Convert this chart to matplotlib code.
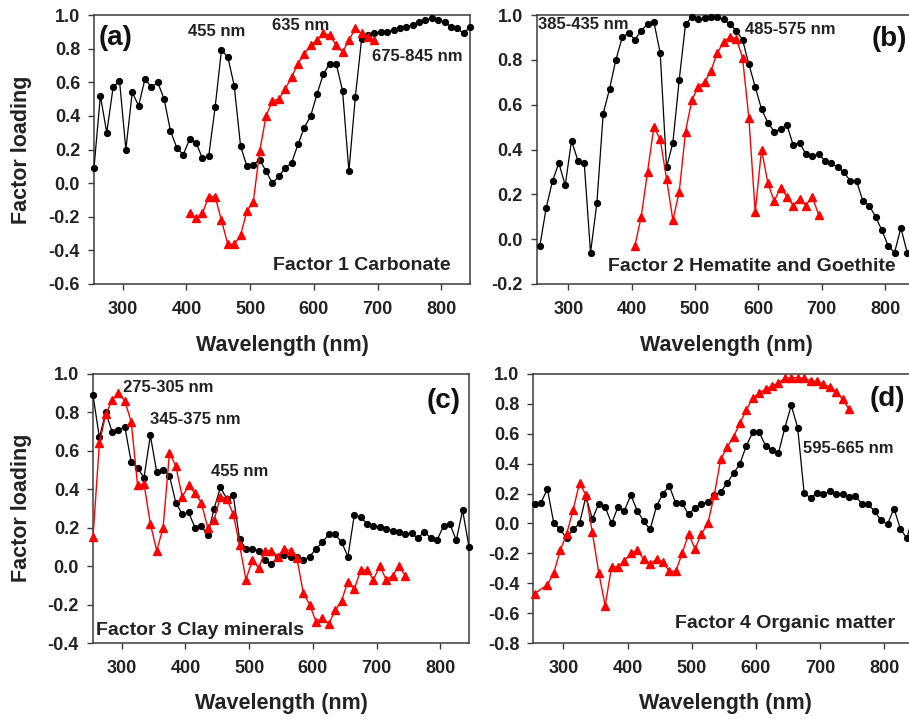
import numpy as np
import matplotlib
matplotlib.use("Agg")
import matplotlib.pyplot as plt

# wavelengths (nm)
wl_full = np.arange(255, 846, 10)          # 255..845
wl_b = np.arange(255, 836, 10)             # 255..835 (panel b, cropped)
wl_red_ab = np.arange(405, 696, 10)        # 405..695
wl_red_c = np.arange(255, 746, 10)         # 255..745
wl_red_d = np.concatenate([[255], np.arange(275, 746, 10)])

# (a) Factor 1 Carbonate
black_a = [0.09, 0.52, 0.30, 0.57, 0.61, 0.20, 0.54, 0.46, 0.62, 0.57,
           0.60, 0.50, 0.31, 0.21, 0.17, 0.26, 0.24, 0.15, 0.16, 0.45,
           0.79, 0.75, 0.58, 0.22, 0.10, 0.11, 0.14, 0.07, 0.00, 0.04,
           0.09, 0.12, 0.23, 0.33, 0.40, 0.53, 0.65, 0.71, 0.71, 0.55,
           0.07, 0.51, 0.86, 0.88, 0.89, 0.90, 0.90, 0.91, 0.92, 0.93,
           0.94, 0.96, 0.97, 0.98, 0.97, 0.96, 0.93, 0.92, 0.89, 0.93]
red_a = [-0.18, -0.21, -0.18, -0.08, -0.08, -0.22, -0.365, -0.365, -0.31, -0.165,
         -0.11, 0.19, 0.40, 0.49, 0.50, 0.56, 0.63, 0.71, 0.77, 0.82,
         0.85, 0.89, 0.88, 0.82, 0.78, 0.85, 0.92, 0.89, 0.87, 0.85]

# (b) Factor 2 Hematite and Goethite
black_b = [-0.03, 0.14, 0.26, 0.34, 0.24, 0.44, 0.35, 0.34, -0.06, 0.16,
           0.56, 0.67, 0.80, 0.90, 0.92, 0.89, 0.93, 0.96, 0.97, 0.83,
           0.32, 0.43, 0.71, 0.96, 0.99, 0.98, 0.985, 0.99, 0.99, 0.98,
           0.96, 0.93, 0.89, 0.78, 0.68, 0.58, 0.52, 0.48, 0.49, 0.51,
           0.42, 0.43, 0.38, 0.37, 0.38, 0.35, 0.34, 0.32, 0.30, 0.26,
           0.26, 0.17, 0.15, 0.10, 0.04, -0.03, -0.06, 0.05, -0.06]
red_b = [-0.03, 0.10, 0.30, 0.50, 0.445, 0.27, 0.085, 0.21, 0.48, 0.62,
         0.68, 0.70, 0.75, 0.83, 0.88, 0.90, 0.895, 0.81, 0.54, 0.12,
         0.40, 0.25, 0.17, 0.23, 0.19, 0.15, 0.18, 0.15, 0.19, 0.11]

# (c) Factor 3 Clay minerals
black_c = [0.89, 0.67, 0.80, 0.70, 0.71, 0.725, 0.54, 0.51, 0.46, 0.68,
           0.49, 0.50, 0.47, 0.33, 0.27, 0.28, 0.20, 0.21, 0.16, 0.30,
           0.41, 0.35, 0.37, 0.14, 0.09, 0.09, 0.08, 0.03, 0.01, 0.05,
           0.06, 0.05, 0.05, 0.03, 0.05, 0.09, 0.125, 0.165, 0.165, 0.125,
           0.05, 0.265, 0.255, 0.22, 0.21, 0.205, 0.195, 0.185, 0.18, 0.165,
           0.17, 0.145, 0.18, 0.145, 0.135, 0.21, 0.22, 0.135, 0.29, 0.10]
red_c = [0.15, 0.64, 0.79, 0.865, 0.90, 0.86, 0.75, 0.42, 0.43, 0.22,
         0.08, 0.20, 0.59, 0.52, 0.36, 0.42, 0.38, 0.33, 0.20, 0.24,
         0.36, 0.35, 0.27, 0.11, -0.07, 0.03, -0.01, 0.08, 0.08, 0.05,
         0.09, 0.08, 0.04, -0.14, -0.20, -0.29, -0.27, -0.30, -0.23, -0.18,
         -0.08, -0.12, -0.02, -0.02, -0.07, 0.00, -0.07, -0.05, 0.00, -0.05]

# (d) Factor 4 Organic matter
black_d = [0.13, 0.14, 0.23, 0.00, -0.04, -0.10, -0.04, 0.00, 0.18, 0.03,
           0.13, 0.11, 0.00, 0.11, 0.085, 0.19, 0.085, 0.015, -0.04, 0.115,
           0.20, 0.25, 0.135, 0.135, 0.06, 0.105, 0.13, 0.145, 0.19, 0.21,
           0.27, 0.335, 0.40, 0.52, 0.61, 0.61, 0.52, 0.49, 0.47, 0.64,
           0.79, 0.64, 0.205, 0.17, 0.205, 0.195, 0.215, 0.195, 0.20, 0.175,
           0.185, 0.13, 0.13, 0.08, 0.02, -0.005, 0.10, -0.035, -0.10, 0.05]
red_d = [-0.47, -0.41, -0.33, -0.18, -0.07, 0.09, 0.27, 0.19, -0.06, -0.33,
         -0.55, -0.29, -0.29, -0.25, -0.20, -0.18, -0.24, -0.27, -0.24, -0.26,
         -0.32, -0.32, -0.20, -0.07, -0.17, -0.07, 0.00, 0.19, 0.43, 0.51,
         0.58, 0.67, 0.76, 0.84, 0.87, 0.90, 0.92, 0.94, 0.97, 0.975,
         0.975, 0.97, 0.955, 0.95, 0.93, 0.915, 0.88, 0.83, 0.765]

plt.rcParams.update({
    "font.family": ["Liberation Sans", "DejaVu Sans"],
    "font.weight": "bold",
    "axes.unicode_minus": False,
})

W, H = 909, 719
fig = plt.figure(figsize=(W / 100, H / 100), dpi=100)
SPINE = "#3c3c3c"


def px_axes(left, top, right, bottom):
    return fig.add_axes([left / W, 1 - bottom / H, (right - left) / W, (bottom - top) / H])


def panel(ax, xlim, ylim, black_x, black_y, red_x, red_y):
    ax.plot(black_x, black_y, color="black", lw=0.9, marker="o", ms=4.2,
            mfc="black", mec="black", zorder=3, clip_on=False)
    ax.plot(red_x, red_y, color="#ff0000", lw=1.0, marker="^", ms=5.2,
            mfc="#ff0000", mec="#ff0000", zorder=4, clip_on=False)
    ax.set_xlim(*xlim)
    ax.set_ylim(*ylim)
    ax.set_xticks([300, 400, 500, 600, 700, 800])
    ax.set_yticks(np.round(np.arange(ylim[0], ylim[1] + 0.01, 0.2), 1) + 0.0)
    ax.yaxis.set_major_formatter(matplotlib.ticker.FuncFormatter(
        lambda v, _: f"{abs(v):.1f}" if abs(v) < 1e-9 else f"{v:.1f}"))
    ax.tick_params(direction="out", length=4, width=1.0, color=SPINE,
                   labelsize=13, top=False, right=False)
    ax.tick_params(axis="x", pad=8)
    ax.tick_params(axis="y", pad=6)
    for lab in ax.get_xticklabels() + ax.get_yticklabels():
        lab.set_fontweight("bold")
        lab.set_color("#222222")
    for s in ax.spines.values():
        s.set_color(SPINE)
        s.set_linewidth(1.1)


TXT = dict(fontsize=12, fontweight="bold", color="#222222")
BIG = dict(fontsize=20, fontweight="bold", color="#111111")
FAC = dict(fontsize=14, fontweight="bold", color="#222222")

# (a)
ax = px_axes(94, 15, 470, 284)
panel(ax, (255, 845), (-0.6, 1.0), wl_full, black_a, wl_red_ab, red_a)
ax.text(262, 0.865, "(a)", ha="left", va="center", **BIG)
ax.text(447, 0.90, "455 nm", ha="center", va="center", **TXT)
ax.text(579, 0.94, "635 nm", ha="center", va="center", **TXT)
ax.text(763, 0.755, "675-845 nm", ha="center", va="center", **TXT)
ax.text(815, -0.49, "Factor 1 Carbonate", ha="right", va="center", **FAC)

# (b)
ax = px_axes(536.7, 15, 916.7, 284)
panel(ax, (250, 850), (-0.2, 1.0), wl_b, black_b, wl_red_ab, red_b)
ax.text(252, 0.958, "385-435 nm", ha="left", va="center", **TXT)
ax.text(650, 0.9375, "485-575 nm", ha="center", va="center", **TXT)
ax.text(807, 0.893, "(b)", ha="center", va="center", **BIG)
ax.text(590, -0.12, "Factor 2 Hematite and Goethite", ha="center", va="center", **FAC)

# (c)
ax = px_axes(93, 374, 469, 643)
panel(ax, (255, 845), (-0.4, 1.0), wl_full, black_c, wl_red_c, red_c)
ax.text(373, 0.93, "275-305 nm", ha="center", va="center", **TXT)
ax.text(415, 0.764, "345-375 nm", ha="center", va="center", **TXT)
ax.text(485, 0.49, "455 nm", ha="center", va="center", **TXT)
ax.text(805, 0.86, "(c)", ha="center", va="center", **BIG)
ax.text(260, -0.334, "Factor 3 Clay minerals", ha="left", va="center", **FAC)

# (d)
ax = px_axes(533.3, 374, 916.4, 643)
panel(ax, (253, 850), (-0.8, 1.0), wl_full, black_d, wl_red_d, red_d)
ax.text(804, 0.83, "(d)", ha="center", va="center", **BIG)
ax.text(744, 0.50, "595-665 nm", ha="center", va="center", **TXT)
ax.text(645, -0.67, "Factor 4 Organic matter", ha="center", va="center", **FAC)

# axis titles
LAB = dict(fontsize=15.5, fontweight="bold", color="#222222")
for cx, cy in [(282, 345), (726, 345), (281, 704), (725, 704)]:
    fig.text(cx / W, 1 - cy / H, "Wavelength (nm)", ha="center", va="center", **LAB)
for cy in [150, 508]:
    fig.text(22 / W, 1 - cy / H, "Factor loading", ha="center", va="center",
             rotation=90, **LAB)

fig.savefig("out.png", dpi=100)
